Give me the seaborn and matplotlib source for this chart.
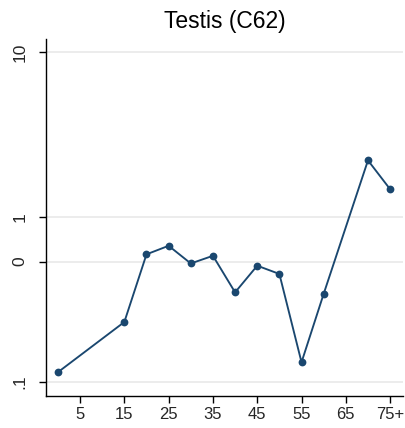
import matplotlib
matplotlib.use("Agg")
import matplotlib.pyplot as plt
import seaborn as sns
import pandas as pd

ages = [0, 15, 20, 25, 30, 35, 40, 45, 50, 55, 60, 70, 75]
rates = [0.114, 0.230, 0.592, 0.667, 0.521, 0.580, 0.348, 0.505, 0.450, 0.131, 0.341, 2.20, 1.47]
x_ticks = [5, 15, 25, 35, 45, 55, 65, 75]
x_labels = ["5", "15", "25", "35", "45", "55", "65", "75+"]
y_ticks = [0.1, 0.535, 1, 10]
y_labels = [".1", "0", "1", "10"]
title = "Testis (C62)"

sns.set_theme(style="white")
plt.rcParams['font.family'] = ['Liberation Sans', 'DejaVu Sans']

df = pd.DataFrame({"age": ages, "rate": rates})

fig = plt.figure(figsize=(4.05, 4.28), dpi=100)
ax = fig.add_axes([0.113, 0.075, 0.882, 0.834])

color = "#1a476f"
sns.lineplot(data=df, x="age", y="rate", ax=ax, color=color, linewidth=1.35,
             marker="o", markersize=5.6, markeredgewidth=0, zorder=3)

ax.set_yscale("log")
ax.set_ylim(0.0819, 12.0)
ax.set_xlim(-2.74, 77.9)

ax.set_yticks(y_ticks)
ax.set_yticklabels(y_labels, rotation=90, va="center")
ax.minorticks_off()
ax.set_xticks(x_ticks)
ax.set_xticklabels(x_labels)

ax.tick_params(axis="x", which="major", direction="out", length=5, width=1,
               color="black", labelsize=12, pad=3, bottom=True)
ax.tick_params(axis="y", which="major", direction="out", length=5, width=1,
               color="black", labelsize=12.5, pad=8, left=True)
ax.grid(axis="y", color="#eaeaea", linewidth=1.3)
ax.grid(axis="x", visible=False)
for s in ["top", "right"]:
    ax.spines[s].set_visible(False)
for s in ["left", "bottom"]:
    ax.spines[s].set_color("black")
    ax.spines[s].set_linewidth(1.0)

ax.set_xlabel("")
ax.set_ylabel("")
ax.set_title(title, fontsize=16.5, pad=8, color="black")

fig.savefig("out.png", dpi=100, facecolor="white")
